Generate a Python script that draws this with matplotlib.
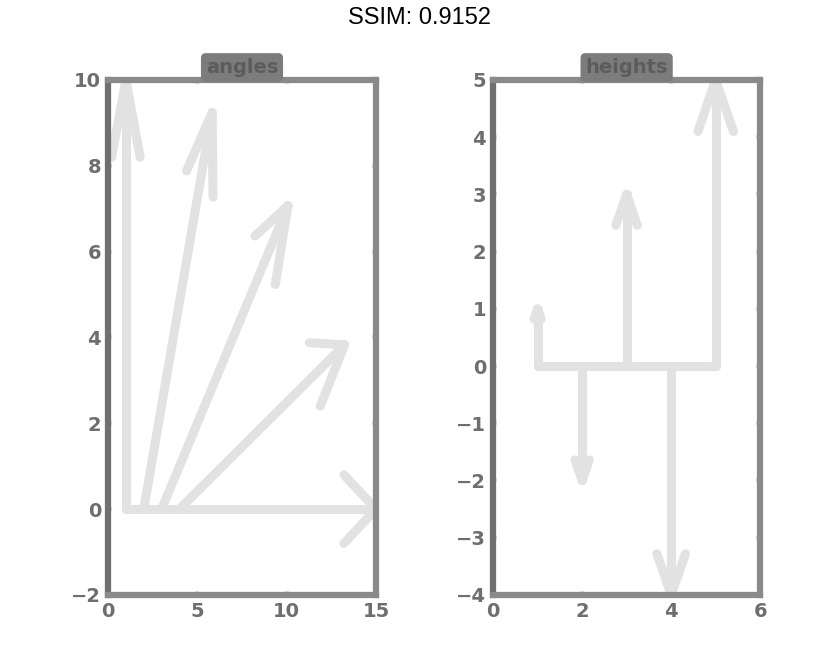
import numpy as np
import matplotlib
matplotlib.use("Agg")
import matplotlib.pyplot as plt

# left panel: arrows of equal length fanning out at different angles
fan_x0 = [1, 2, 3, 4, 5]
fan_angle_deg = [90, 67.5, 45, 22.5, 0]
fan_length = [10, 10, 10, 10, 10]

# right panel: vertical arrows with signed heights
stem_x0 = [1, 2, 3, 4, 5]
stem_height = [1, -2, 3, -4, 5]

left_xticks = [0, 5, 10, 15]
left_yticks = [-2, 0, 2, 4, 6, 8, 10]
right_xticks = [0, 2, 4, 6]
right_yticks = [-4, -3, -2, -1, 0, 1, 2, 3, 4, 5]

titles = ["angles", "heights"]
score_text = "SSIM: 0.9152"

ARROW_COLOR = "#e2e2e2"
SPINE_COLOR = "#8a8a8a"
LABEL_COLOR = "#6e6e6e"
LW = 6.5


def draw_arrow(ax, x0, y0, dx, dy, lw=LW):
    length = np.hypot(dx, dy)
    ux, uy = dx / length, dy / length
    hl = 0.18 * length
    hw = 0.08 * length
    tx, ty = x0 + dx, y0 + dy
    ax.plot([x0, tx], [y0, ty], color=ARROW_COLOR, lw=lw,
            solid_capstyle="round", zorder=2)
    for s in (1, -1):
        wx = tx - hl * ux + s * hw * (-uy)
        wy = ty - hl * uy + s * hw * ux
        ax.plot([wx, tx], [wy, ty], color=ARROW_COLOR, lw=lw,
                solid_capstyle="round", zorder=2)


def style_axes(ax, title):
    for side, sp in ax.spines.items():
        sp.set_color(SPINE_COLOR)
        sp.set_linewidth(4.5)
    ax.spines["left"].set_color("#6f6f6f")
    ax.tick_params(direction="in", length=3, width=3, color="#dcdcdc",
                   top=True, right=True, labelsize=14,
                   labelcolor=LABEL_COLOR, pad=5)
    for lab in ax.get_xticklabels() + ax.get_yticklabels():
        lab.set_fontweight("bold")
    ax.set_title(title, fontsize=14, fontweight="bold", color="#5c5c5c",
                 pad=5, bbox=dict(boxstyle="round,pad=0.25",
                                  fc="#7c7c7c", ec="none"))


fig = plt.figure(figsize=(8.4, 6.64), dpi=100)
ax1 = fig.add_axes([0.1286, 0.104, 0.319, 0.7756])
ax2 = fig.add_axes([0.587, 0.104, 0.318, 0.7756])

# left panel
ax1.plot([fan_x0[0], fan_x0[-1]], [0, 0], color=ARROW_COLOR, lw=LW,
         solid_capstyle="round", zorder=2)
for x0, a, L in zip(fan_x0, fan_angle_deg, fan_length):
    r = np.deg2rad(a)
    draw_arrow(ax1, x0, 0, L * np.cos(r), L * np.sin(r))
ax1.set_xlim(0, 15)
ax1.set_ylim(-2, 10)
ax1.set_xticks(left_xticks)
ax1.set_yticks(left_yticks)
style_axes(ax1, titles[0])

# right panel
ax2.plot([stem_x0[0], stem_x0[-1]], [0, 0], color=ARROW_COLOR, lw=LW,
         solid_capstyle="round", zorder=2)
for x0, h in zip(stem_x0, stem_height):
    draw_arrow(ax2, x0, 0, 0, h)
ax2.set_xlim(0, 6)
ax2.set_ylim(-4, 5)
ax2.set_xticks(right_xticks)
ax2.set_yticks(right_yticks)
style_axes(ax2, titles[1])

fig.suptitle(score_text, y=0.99, fontsize=17, family="Liberation Sans")

fig.savefig("out.png", dpi=100)
